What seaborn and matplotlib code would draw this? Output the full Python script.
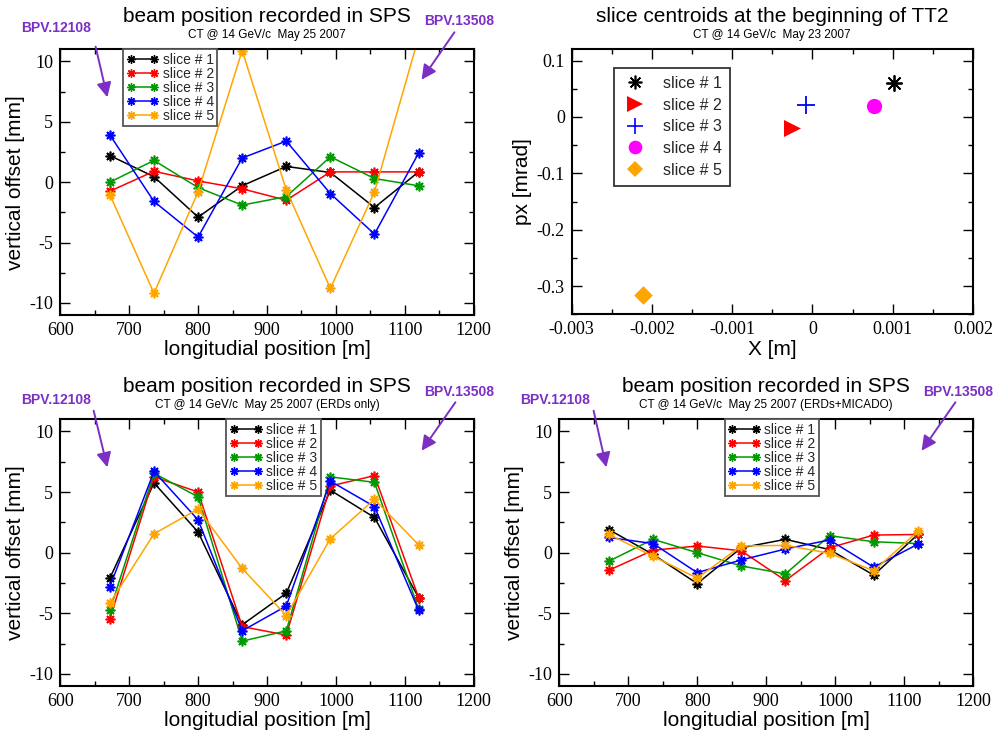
import numpy as np
import pandas as pd
import matplotlib
matplotlib.use("Agg")
import matplotlib.pyplot as plt
from matplotlib.lines import Line2D
from matplotlib.patches import FancyArrowPatch
from matplotlib.ticker import MultipleLocator, FuncFormatter
import seaborn as sns

# ---------------- data ----------------
position = [672, 736, 800, 864, 928, 992, 1056, 1120]   # BPM longitudinal position [m]
slices = ["slice # 1", "slice # 2", "slice # 3", "slice # 4", "slice # 5"]

# vertical offset [mm], May 25 2007
sps_raw = {
    "slice # 1": [2.2, 0.45, -2.9, -0.3, 1.3, 0.8, -2.1, 0.85],
    "slice # 2": [-0.75, 0.9, 0.1, -0.55, -1.5, 0.85, 0.85, 0.85],
    "slice # 3": [0.0, 1.8, -0.45, -1.9, -1.2, 2.1, 0.3, -0.3],
    "slice # 4": [3.9, -1.6, -4.55, 2.0, 3.4, -0.95, -4.3, 2.4],
    "slice # 5": [-1.05, -9.2, -0.8, 10.9, -0.65, -8.8, -0.8, 12.0],
}
# vertical offset [mm], ERDs only
sps_erds = {
    "slice # 1": [-2.1, 5.75, 1.7, -5.95, -3.35, 5.15, 2.9, -3.7],
    "slice # 2": [-5.45, 6.25, 5.0, -6.1, -6.8, 5.5, 6.35, -3.7],
    "slice # 3": [-4.75, 6.55, 4.6, -7.3, -6.45, 6.25, 5.8, -4.65],
    "slice # 4": [-2.8, 6.7, 2.7, -6.45, -4.4, 5.9, 3.8, -4.75],
    "slice # 5": [-4.15, 1.55, 3.6, -1.3, -5.2, 1.15, 4.4, 0.65],
}
# vertical offset [mm], ERDs + MICADO
sps_micado = {
    "slice # 1": [1.9, -0.15, -2.55, 0.4, 1.1, 0.25, -1.85, 1.5],
    "slice # 2": [-1.45, 0.2, 0.55, 0.15, -2.3, 0.4, 1.45, 1.5],
    "slice # 3": [-0.7, 1.1, 0.0, -1.1, -1.75, 1.4, 0.9, 0.75],
    "slice # 4": [1.25, 0.75, -1.65, -0.6, 0.3, 1.05, -1.2, 0.7],
    "slice # 5": [1.5, -0.3, -2.1, 0.55, 0.6, -0.05, -1.5, 1.75],
}

# slice centroids at the beginning of TT2
centroid_x = [0.00101, -0.00026, -0.00008, 0.00077, -0.00211]   # X [m]
centroid_px = [0.061, -0.019, 0.021, 0.019, -0.315]             # px [mrad]

# ---------------- style ----------------
colors = {"slice # 1": "black", "slice # 2": "#ff0000", "slice # 3": "#009a00",
          "slice # 4": "#0000ff", "slice # 5": "#ffa500"}
ARROW = "#7B2FC4"
STAR = (8, 2, 0)
SANS = ["Liberation Sans", "DejaVu Sans"]

sns.set_theme(style="white")
# tick numbers are set in a serif face; every other text names the sans face
plt.rcParams["font.family"] = ["Liberation Serif", "DejaVu Serif"]
plt.rcParams["axes.unicode_minus"] = False

W, H = 993, 731
fig = plt.figure(figsize=(W / 100, H / 100), dpi=100)


def box(l, t, r, b):
    return [l / W, 1 - b / H, (r - l) / W, (b - t) / H]


def gfmt(v, pos):
    s = "%g" % round(v, 6)
    return "0" if s in ("-0", "0") else s


def style_axes(ax, xmaj, xmin, ymaj, ymin):
    ax.xaxis.set_major_locator(MultipleLocator(xmaj))
    ax.xaxis.set_minor_locator(MultipleLocator(xmin))
    ax.yaxis.set_major_locator(MultipleLocator(ymaj))
    ax.yaxis.set_minor_locator(MultipleLocator(ymin))
    ax.xaxis.set_major_formatter(FuncFormatter(gfmt))
    ax.yaxis.set_major_formatter(FuncFormatter(gfmt))
    ax.tick_params(which="both", direction="in", top=True, right=True,
                   bottom=True, left=True, color="black", width=1.0,
                   labelcolor="black")
    ax.tick_params(which="major", length=7, labelsize=13, pad=5)
    ax.tick_params(which="minor", length=3.5)
    for sp in ax.spines.values():
        sp.set_visible(True)
        sp.set_color("black")
        sp.set_linewidth(1.5)


def head(cx, y1, y2, title, sub):
    fig.text(cx / W, 1 - y1 / H, title, ha="center", va="center", fontsize=15,
             family=SANS, color="black")
    fig.text(cx / W, 1 - y2 / H, sub, ha="center", va="center", fontsize=8.5,
             family=SANS, color="black")


def arrow(tx, ty, x0, y0, x1, y1, label):
    fig.text(tx / W, 1 - ty / H, label, ha="center", va="center", family=SANS,
             fontsize=10, fontweight="bold", color=ARROW)
    fig.add_artist(FancyArrowPatch((x0 / W, 1 - y0 / H), (x1 / W, 1 - y1 / H),
                                   transform=fig.transFigure, arrowstyle="-|>",
                                   mutation_scale=22, color=ARROW, lw=1.4))


def offset_panel(rect, data, legend_anchor):
    ax = fig.add_axes(rect)
    df = pd.DataFrame([(s, p, v) for s in slices for p, v in zip(position, data[s])],
                      columns=["slice", "position", "offset"])
    sns.lineplot(data=df, x="position", y="offset", hue="slice", palette=colors,
                 estimator=None, sort=False, ax=ax, legend=False, lw=1.1,
                 marker=STAR, markersize=7, markeredgewidth=1.2)
    for ln in ax.lines:
        ln.set_markeredgecolor(ln.get_color())
    ax.set_xlim(600, 1200)
    ax.set_ylim(-11, 11)
    style_axes(ax, 100, 50, 5, 2.5)
    ax.set_xlabel("longitudial position [m]", fontsize=15, labelpad=1, family=SANS,
                  color="black")
    ax.set_ylabel("vertical offset [mm]", fontsize=15, labelpad=3, family=SANS,
                  color="black")
    handles = [Line2D([], [], color=colors[s], lw=1.1, marker=STAR, markersize=6,
                      markeredgewidth=1.0, markeredgecolor=colors[s]) for s in slices]
    leg = ax.legend(handles, slices, loc="upper left", bbox_to_anchor=legend_anchor,
                    numpoints=2, handlelength=2.3, handletextpad=0.3, labelspacing=0.0,
                    borderpad=0.25, borderaxespad=0, prop={"family": SANS, "size": 10},
                    frameon=True, fancybox=False, edgecolor="#555555", framealpha=1)
    leg.get_frame().set_linewidth(1.3)
    return ax


# top left: as recorded
offset_panel(box(60.3, 49.3, 473.7, 315), sps_raw, (0.152, 1.0))
head(267, 17, 35, "beam position recorded in SPS", "CT @ 14 GeV/c  May 25 2007")
arrow(56, 28, 95, 44, 108, 100, "BPV.12108")
arrow(459, 21, 456, 30, 420, 82, "BPV.13508")

# top right: centroids in phase space
ax2 = fig.add_axes(box(571.7, 49.3, 973, 314.3))
markers = [STAR, ">", "+", "o", "D"]
mcolors = ["black", "#ff0000", "#0000ff", "#ff00ff", "#ffa500"]
msizes = [120, 150, 170, 120, 90]
for s, x, y, m, c, ms in zip(slices, centroid_x, centroid_px, markers, mcolors, msizes):
    if m in (STAR, "+"):
        sns.scatterplot(x=[x], y=[y], marker=m, color=c, s=ms, linewidth=1.3, ax=ax2)
    else:
        sns.scatterplot(x=[x], y=[y], marker=m, color=c, s=ms, linewidth=0, ax=ax2)
ax2.set_xlim(-0.003, 0.002)
ax2.set_ylim(-0.35, 0.12)
style_axes(ax2, 0.001, 0.0005, 0.1, 0.05)
ax2.set_xlabel("X [m]", fontsize=15, labelpad=1, family=SANS, color="black")
ax2.set_ylabel("px [mrad]", fontsize=15, labelpad=3, family=SANS, color="black")
h2 = [Line2D([], [], ls="none", marker=m, color=c, markersize=np.sqrt(ms) * 0.9,
             markeredgewidth=1.2 if m in (STAR, "+") else 0)
      for m, c, ms in zip(markers, mcolors, msizes)]
leg2 = ax2.legend(h2, slices, loc="upper left", bbox_to_anchor=(0.105, 0.93),
                  handlelength=1.6, handletextpad=1.0, labelspacing=0.42,
                  borderpad=0.5, borderaxespad=0, prop={"family": SANS, "size": 11.5},
                  frameon=True, fancybox=False, edgecolor="#333333", framealpha=1)
leg2.get_frame().set_linewidth(1.3)
head(772, 17, 35, "slice centroids at the beginning of TT2", "CT @ 14 GeV/c  May 23 2007")

# bottom left: ERDs only
offset_panel(box(60.3, 419.3, 473.7, 686), sps_erds, (0.402, 1.0))
head(267, 386, 405, "beam position recorded in SPS", "CT @ 14 GeV/c  May 25 2007 (ERDs only)")
arrow(56, 400, 93, 408, 108, 470, "BPV.12108")
arrow(459, 392, 457, 400, 420, 453, "BPV.13508")

# bottom right: ERDs + MICADO
offset_panel(box(559.3, 419.3, 973, 686), sps_micado, (0.4, 1.0))
head(766, 386, 405, "beam position recorded in SPS", "CT @ 14 GeV/c  May 25 2007 (ERDs+MICADO)")
arrow(555, 400, 593, 408, 607, 470, "BPV.12108")
arrow(958, 392, 957, 400, 920, 453, "BPV.13508")

fig.savefig("out.png", dpi=100)
